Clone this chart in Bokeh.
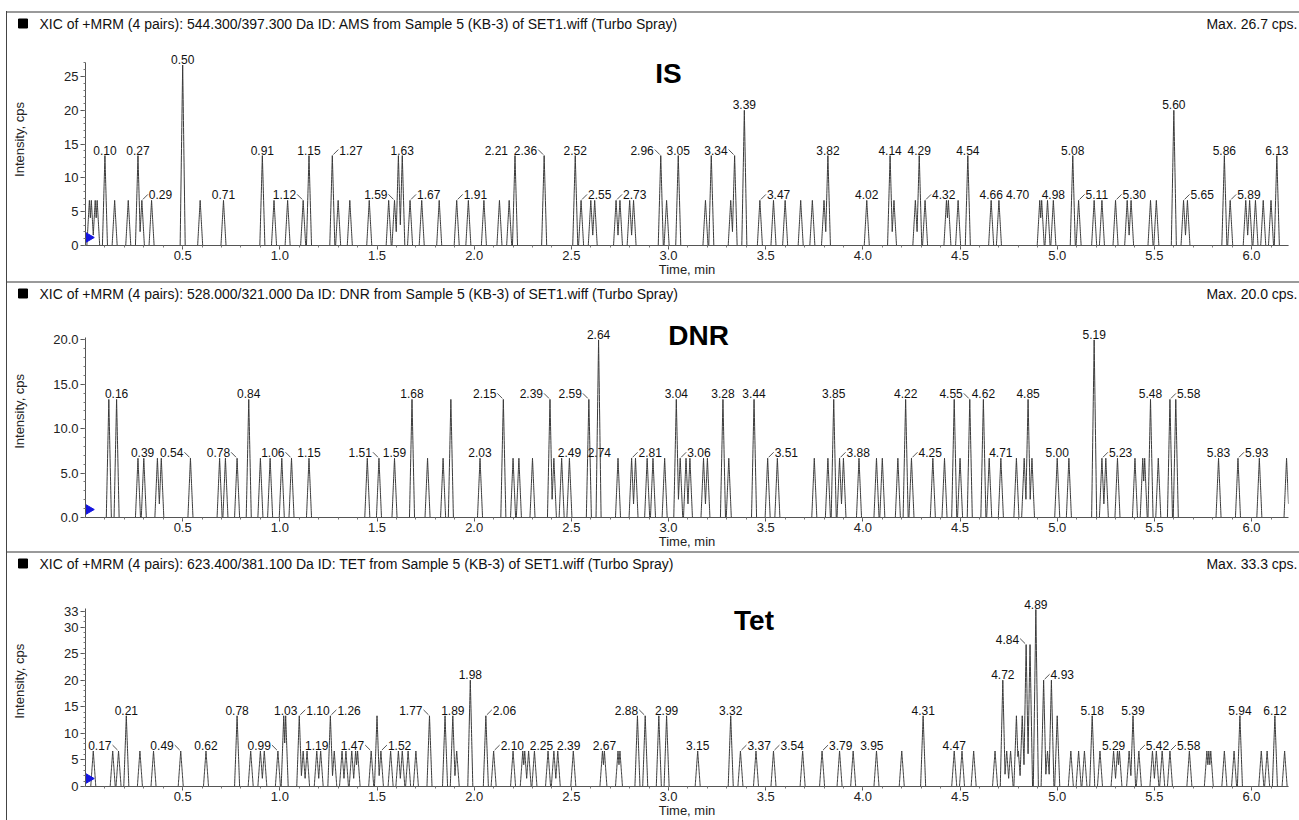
import numpy as np
from bokeh.plotting import figure
from bokeh.models import (ColumnDataSource, Label, LinearAxis, FixedTicker, Range1d,
                          Spacer, NumeralTickFormatter)
from bokeh.layouts import column, row
from bokeh.embed import file_html
from bokeh.resources import INLINE
from bokeh.core.properties import value

FONT = "Liberation Sans"
T_END = 6.19

# ---------------- data: IS ----------------
is_peak_t = [0.02, 0.03, 0.05, 0.06, 0.10, 0.15, 0.22, 0.27, 0.29, 0.34, 0.50, 0.59, 0.71, 0.91, 0.97,
             1.04, 1.12, 1.15, 1.27, 1.30, 1.36, 1.46, 1.56, 1.59, 1.61, 1.63, 1.67, 1.73, 1.82, 1.91,
             1.97, 2.05, 2.13, 2.18, 2.21, 2.36, 2.52, 2.55, 2.60, 2.62, 2.73, 2.75, 2.80, 2.82, 2.96,
             2.99, 3.05, 3.19, 3.22, 3.32, 3.34, 3.39, 3.47, 3.54, 3.60, 3.68, 3.74, 3.80, 3.82, 4.02,
             4.14, 4.16, 4.27, 4.29, 4.32, 4.43, 4.44, 4.49, 4.54, 4.66, 4.70, 4.91, 4.92, 4.95, 4.98,
             5.08, 5.11, 5.19, 5.23, 5.30, 5.36, 5.38, 5.48, 5.51, 5.60, 5.65, 5.67, 5.86, 5.89, 5.97,
             5.99, 6.02, 6.06, 6.10, 6.13]
is_peak_h = [6.67, 6.67, 6.67, 6.67, 13.3, 6.67, 6.67, 13.3, 6.67, 6.67, 26.7, 6.67, 6.67, 13.3, 6.67,
             6.67, 6.67, 13.3, 13.3, 6.67, 6.67, 6.67, 6.67, 6.67, 13.3, 13.3, 6.67, 6.67, 6.67, 6.67,
             6.67, 6.67, 6.67, 6.67, 13.3, 13.3, 13.3, 6.67, 6.67, 6.67, 6.67, 6.67, 6.67, 6.67, 13.3,
             6.67, 13.3, 6.67, 13.3, 6.67, 13.3, 20.0, 6.67, 6.67, 6.67, 6.67, 6.67, 6.67, 13.3, 6.67,
             13.3, 6.67, 6.67, 13.3, 6.67, 6.67, 6.67, 6.67, 13.3, 6.67, 6.67, 6.67, 6.67, 6.67, 6.67,
             13.3, 6.67, 6.67, 6.67, 6.67, 6.67, 6.67, 6.67, 6.67, 20.0, 6.67, 6.67, 13.3, 6.67, 6.67,
             6.67, 6.67, 6.67, 6.67, 13.3]
is_label_t = [0.10, 0.27, 0.29, 0.50, 0.71, 0.91, 1.12, 1.15, 1.27, 1.59, 1.63, 1.67, 1.91, 2.21, 2.36,
              2.52, 2.55, 2.73, 2.96, 3.05, 3.34, 3.39, 3.47, 3.82, 4.02, 4.14, 4.29, 4.32, 4.54, 4.66,
              4.70, 4.98, 5.08, 5.11, 5.30, 5.60, 5.65, 5.86, 5.89, 6.13]

# ---------------- data: DNR ----------------
dnr_peak_t = [0.12, 0.16, 0.27, 0.30, 0.37, 0.39, 0.54, 0.69, 0.72, 0.78, 0.84, 0.90, 0.95, 1.01, 1.06,
              1.15, 1.45, 1.51, 1.59, 1.68, 1.76, 1.84, 1.88, 2.03, 2.15, 2.20, 2.23, 2.30, 2.39, 2.41,
              2.45, 2.49, 2.59, 2.64, 2.74, 2.81, 2.83, 2.89, 2.92, 2.98, 3.04, 3.06, 3.09, 3.11, 3.18,
              3.20, 3.28, 3.31, 3.44, 3.51, 3.56, 3.75, 3.82, 3.85, 3.88, 3.90, 3.98, 4.07, 4.10, 4.18,
              4.22, 4.25, 4.36, 4.42, 4.47, 4.50, 4.55, 4.62, 4.65, 4.71, 4.79, 4.83, 4.85, 4.87, 5.00,
              5.06, 5.19, 5.23, 5.25, 5.31, 5.40, 5.44, 5.45, 5.48, 5.52, 5.58, 5.61, 5.83, 5.93, 6.04,
              6.18]
dnr_peak_h = [13.3, 13.3, 6.67, 6.67, 6.67, 6.67, 6.67, 6.67, 6.67, 6.67, 13.3, 6.67, 6.67, 6.67, 6.67,
              6.67, 6.67, 6.67, 6.67, 13.3, 6.67, 6.67, 13.3, 6.67, 13.3, 6.67, 6.67, 6.67, 13.3, 6.67,
              6.67, 6.67, 13.3, 20.0, 6.67, 6.67, 6.67, 6.67, 6.67, 6.67, 13.3, 6.67, 6.67, 6.67, 6.67,
              6.67, 13.3, 6.67, 13.3, 6.67, 6.67, 6.67, 6.67, 13.3, 6.67, 6.67, 6.67, 6.67, 6.67, 6.67,
              13.3, 6.67, 6.67, 6.67, 13.3, 6.67, 13.3, 13.3, 6.67, 6.67, 6.67, 6.67, 13.3, 6.67, 6.67,
              6.67, 20.0, 6.67, 6.67, 6.67, 6.67, 6.67, 6.67, 13.3, 6.67, 13.3, 13.3, 6.67, 6.67, 6.67,
              6.67]
dnr_label_t = [0.16, 0.39, 0.54, 0.78, 0.84, 1.06, 1.15, 1.51, 1.59, 1.68, 2.03, 2.15, 2.39, 2.49, 2.59,
               2.64, 2.74, 2.81, 3.04, 3.06, 3.28, 3.44, 3.51, 3.85, 3.88, 4.22, 4.25, 4.55, 4.62, 4.71,
               4.85, 5.00, 5.19, 5.23, 5.48, 5.58, 5.83, 5.93]

# ---------------- data: Tet ----------------
tet_peak_t = [0.04, 0.14, 0.17, 0.21, 0.28, 0.35, 0.49, 0.62, 0.78, 0.85, 0.90, 0.92, 0.99, 1.02, 1.03,
              1.10, 1.12, 1.14, 1.19, 1.21, 1.26, 1.28, 1.32, 1.34, 1.37, 1.39, 1.40, 1.47, 1.50, 1.52,
              1.57, 1.61, 1.63, 1.66, 1.70, 1.77, 1.85, 1.89, 1.91, 1.98, 2.06, 2.10, 2.20, 2.25, 2.26,
              2.28, 2.31, 2.38, 2.41, 2.43, 2.51, 2.66, 2.67, 2.74, 2.75, 2.84, 2.88, 2.95, 2.99, 3.15,
              3.32, 3.37, 3.45, 3.54, 3.69, 3.79, 3.88, 3.95, 4.07, 4.20, 4.31, 4.47, 4.51, 4.57, 4.68,
              4.72, 4.74, 4.76, 4.79, 4.80, 4.82, 4.84, 4.86, 4.89, 4.93, 4.95, 4.97, 5.00, 5.07, 5.11,
              5.14, 5.18, 5.22, 5.29, 5.31, 5.32, 5.37, 5.39, 5.42, 5.49, 5.51, 5.54, 5.58, 5.68, 5.77,
              5.78, 5.79, 5.86, 5.91, 5.94, 6.05, 6.08, 6.12, 6.17]
tet_peak_h = [6.67, 6.67, 6.67, 13.3, 6.67, 6.67, 6.67, 6.67, 13.3, 6.67, 6.67, 6.67, 6.67, 13.3, 13.3,
              13.3, 6.67, 6.67, 6.67, 6.67, 13.3, 6.67, 6.67, 6.67, 6.67, 6.67, 6.67, 6.67, 13.3, 6.67,
              6.67, 6.67, 6.67, 6.67, 6.67, 13.3, 13.3, 13.3, 6.67, 20.0, 13.3, 6.67, 6.67, 6.67, 6.67,
              6.67, 6.67, 6.67, 6.67, 6.67, 6.67, 6.67, 6.67, 6.67, 6.67, 13.3, 13.3, 13.3, 13.3, 6.67,
              13.3, 6.67, 6.67, 6.67, 6.67, 6.67, 6.67, 6.67, 6.67, 6.67, 13.3, 6.67, 6.67, 6.67, 6.67,
              20.0, 6.67, 6.67, 13.3, 6.67, 13.3, 26.7, 26.7, 33.3, 20.0, 6.67, 20.0, 13.3, 6.67, 6.67,
              6.67, 13.3, 6.67, 6.67, 6.67, 6.67, 6.67, 13.3, 6.67, 6.67, 6.67, 6.67, 6.67, 6.67, 6.67,
              6.67, 6.67, 6.67, 6.67, 13.3, 6.67, 6.67, 13.3, 6.67]
tet_label_t = [0.17, 0.21, 0.49, 0.62, 0.78, 0.99, 1.03, 1.10, 1.19, 1.26, 1.47, 1.52, 1.77, 1.89, 1.98,
               2.06, 2.10, 2.25, 2.39, 2.67, 2.88, 2.99, 3.15, 3.32, 3.37, 3.54, 3.79, 3.95, 4.31, 4.47,
               4.72, 4.84, 4.89, 4.93, 5.18, 5.29, 5.39, 5.42, 5.58, 5.94, 6.12]

x_ticks = [0.5, 1.0, 1.5, 2.0, 2.5, 3.0, 3.5, 4.0, 4.5, 5.0, 5.5, 6.0]

headers = [
    "XIC of +MRM (4 pairs): 544.300/397.300 Da ID: AMS from Sample 5 (KB-3) of SET1.wiff (Turbo Spray)",
    "XIC of +MRM (4 pairs): 528.000/321.000 Da ID: DNR from Sample 5 (KB-3) of SET1.wiff (Turbo Spray)",
    "XIC of +MRM (4 pairs): 623.400/381.100 Da ID: TET from Sample 5 (KB-3) of SET1.wiff (Turbo Spray)",
]
max_texts = ["Max. 26.7 cps.", "Max. 20.0 cps.", "Max. 33.3 cps."]
names = ["IS", "DNR", "Tet"]

# ---------------- style / layout (label placement codes, not data) ----------------
# c = centred above peak, r/l = right/left with leader line, R/L = right/left without leader
is_label_side = ["c", "c", "r", "c", "c", "c", "l", "c", "r", "l", "c", "r", "r", "L", "l",
                 "c", "r", "r", "l", "c", "l", "c", "r", "c", "c", "c", "c", "r", "c", "c",
                 "R", "c", "c", "r", "r", "c", "r", "c", "r", "c"]
dnr_label_side = ["c", "L", "l", "l", "c", "l", "c", "l", "c", "c", "c", "l", "l", "c", "l",
                  "c", "L", "r", "c", "r", "c", "c", "r", "c", "r", "c", "r", "l", "c", "c",
                  "c", "c", "c", "r", "c", "r", "c", "r"]
tet_label_side = ["l", "c", "l", "c", "c", "l", "c", "r", "c", "r", "l", "r", "l", "c", "c",
                  "r", "r", "R", "R", "c", "l", "c", "c", "c", "r", "r", "r", "R", "c", "c",
                  "c", "l", "c", "r", "c", "c", "c", "r", "r", "c", "c"]

HALF_W = 0.013
LINE_C = "#3a3a3a"
TXT_C = "#111111"
X0 = 7                  # page x where the bordered content starts
W_TOTAL = 1299 - X0
STRIP_W = 40            # strip holding the y-axis title
MAIN_W = W_TOTAL - STRIP_W
FRAME_L = 85            # page x of the plot frame's left edge
FRAME_R = 1288
HDR_H = 20


def trace(pt, ph):
    grid = np.arange(0.0, T_END + 1e-9, 0.0005)
    y = np.zeros_like(grid)
    for t, h in zip(pt, ph):
        y = np.maximum(y, h * np.clip(1.0 - np.abs(grid - t) / HALF_W, 0.0, None))
    return grid, y


def header_fig(text, maxtxt):
    h = figure(width=W_TOTAL, height=HDR_H, x_range=Range1d(0, W_TOTAL), y_range=Range1d(0, HDR_H),
               output_backend="svg", toolbar_location=None, x_axis_location=None,
               y_axis_location=None, min_border=0)
    h.outline_line_color = None
    h.grid.visible = False
    h.rect([22.5 - X0], [HDR_H / 2], width=9, height=9, fill_color="black", line_color="black")
    h.text([39 - X0], [HDR_H / 2], text=[text], text_font=value(FONT), text_font_size="14px",
           text_color=TXT_C, text_align="left", text_baseline="middle")
    h.text([1297 - X0], [HDR_H / 2], text=[maxtxt], text_font=value(FONT), text_font_size="14px",
           text_color=TXT_C, text_align="right", text_baseline="middle")
    return h


def strip_fig(height, ylab_from_top):
    s = figure(width=STRIP_W, height=height, x_range=Range1d(0, STRIP_W), y_range=Range1d(0, height),
               output_backend="svg", toolbar_location=None, x_axis_location=None,
               y_axis_location=None, min_border=0)
    s.outline_line_color = None
    s.grid.visible = False
    s.text([19 - X0], [height - ylab_from_top], text=["Intensity, cps"], text_font=value(FONT),
           text_font_size="13px", text_color="#222222", angle=np.pi / 2,
           text_align="center", text_baseline="middle")
    return s


def make_panel(pt, ph, lt, sides, name, name_xy, yticks, yfmt, ybound, px_unit, height, frame_h):
    bottom = height - frame_h
    yend = frame_h / px_unit
    p = figure(width=MAIN_W, height=height, x_range=Range1d(0, T_END), y_range=Range1d(0, yend),
               output_backend="svg", toolbar_location=None, x_axis_location=None,
               y_axis_location=None, min_border_left=FRAME_L - X0 - STRIP_W,
               min_border_right=1299 - FRAME_R, min_border_top=0, min_border_bottom=bottom)
    p.outline_line_color = None
    p.grid.visible = False
    px_min = (FRAME_R - FRAME_L) / T_END

    xa = LinearAxis(ticker=FixedTicker(ticks=x_ticks,
                                       minor_ticks=[round(0.1 * i, 1) for i in range(1, 62)]),
                    formatter=NumeralTickFormatter(format="0.0"),
                    axis_label="Time, min")
    ya = LinearAxis(ticker=FixedTicker(ticks=yticks, minor_ticks=list(range(0, int(ybound) + 1))),
                    formatter=NumeralTickFormatter(format=yfmt), bounds=(0, ybound))
    for ax in (xa, ya):
        ax.axis_line_color = "#555555"
        ax.major_tick_line_color = "#555555"
        ax.minor_tick_line_color = "#777777"
        ax.major_label_text_font = FONT
        ax.major_label_text_font_size = "13px"
        ax.major_label_text_color = "#222222"
        ax.axis_label_text_font = FONT
        ax.axis_label_text_font_size = "13px"
        ax.axis_label_text_font_style = "normal"
        ax.axis_label_text_color = "#222222"
    xa.major_tick_out = 4
    xa.major_tick_in = 0
    xa.minor_tick_out = 2
    xa.minor_tick_in = 0
    xa.major_label_standoff = 1
    xa.axis_label_standoff = -1
    ya.major_tick_out = 5
    ya.major_tick_in = 0
    ya.minor_tick_out = 2
    ya.minor_tick_in = 0
    ya.major_label_standoff = 2
    p.add_layout(xa, "below")
    p.add_layout(ya, "left")

    gx, gy = trace(pt, ph)
    p.line(gx, gy, line_color=LINE_C, line_width=1)

    # blue marker at the axis
    p.scatter([3.0 / px_min], [8.0 / px_unit], marker="triangle", size=10, angle=-np.pi / 2,
              fill_color="#1515e0", line_color="#1515e0")

    # peak labels
    pt_arr = np.array(pt)
    groups = {"center": ([], [], []), "left": ([], [], []), "right": ([], [], [])}
    offs = {"center": 0, "left": 7, "right": -7}
    lx0, ly0, lx1, ly1 = [], [], [], []
    for t, s in zip(lt, sides):
        h = ph[int(np.argmin(np.abs(pt_arr - t)))]
        if s == "c":
            key = "center"
        elif s in ("r", "R"):
            key = "left"
        else:
            key = "right"
        groups[key][0].append(t)
        groups[key][1].append(h)
        groups[key][2].append(f"{t:.2f}")
        if s in ("r", "l"):
            sgn = 1 if s == "r" else -1
            lx0.append(t + sgn * 1.0 / px_min)
            ly0.append(h + 1.0 / px_unit)
            lx1.append(t + sgn * 6.0 / px_min)
            ly1.append(h + 6.0 / px_unit)
    for key, (xs, ys, ts) in groups.items():
        if not xs:
            continue
        src = ColumnDataSource(dict(x=xs, y=ys, text=ts))
        p.text(x="x", y="y", text="text", source=src, text_font=value(FONT),
               text_font_size="12px", text_color=TXT_C, text_align=key,
               text_baseline="bottom", x_offset=offs[key], y_offset=-1)
    if lx0:
        p.segment(x0=lx0, y0=ly0, x1=lx1, y1=ly1, line_color="#555555", line_width=1)

    p.add_layout(Label(x=name_xy[0], y=name_xy[1], text=name, text_font=FONT,
                       text_font_size="28px", text_font_style="bold", text_color="#000000",
                       text_align="center", text_baseline="middle"))
    return p


def rule():
    return Spacer(width=W_TOTAL, height=2, styles={"background-color": "#9a9a9a"})


# panel 1: canvas page y 33..281, baseline 245
p1 = make_panel(is_peak_t, is_peak_h, is_label_t, is_label_side, names[0], (3.0, 25.4),
                [0, 5, 10, 15, 20, 25], "0", 27, 6.76, 248, 212)
# panel 2: canvas page y 303..551, baseline 517
p2 = make_panel(dnr_peak_t, dnr_peak_h, dnr_label_t, dnr_label_side, names[1], (3.155, 20.5),
                [0, 5, 10, 15, 20], "0.0", 20.3, 8.88, 248, 214)
# panel 3: canvas page y 573..820, baseline 787
p3 = make_panel(tet_peak_t, tet_peak_h, tet_label_t, tet_label_side, names[2], (3.44, 31.3),
                [0, 5, 10, 15, 20, 25, 30, 33], "0", 33.5, 5.34, 247, 214)

content = column(
    Spacer(width=W_TOTAL, height=11), rule(), header_fig(headers[0], max_texts[0]),
    row(strip_fig(248, 157 - 33), p1, spacing=0), rule(), header_fig(headers[1], max_texts[1]),
    row(strip_fig(248, 428 - 303), p2, spacing=0), rule(), header_fig(headers[2], max_texts[2]),
    row(strip_fig(247, 698 - 573), p3, spacing=0),
    spacing=0)
border = column(Spacer(width=1, height=11),
                Spacer(width=1, height=809, styles={"background-color": "#444444"}), spacing=0)
layout = row(Spacer(width=X0 - 1, height=820), border, content, spacing=0)
open("out.html", "w").write(file_html(layout, INLINE))
